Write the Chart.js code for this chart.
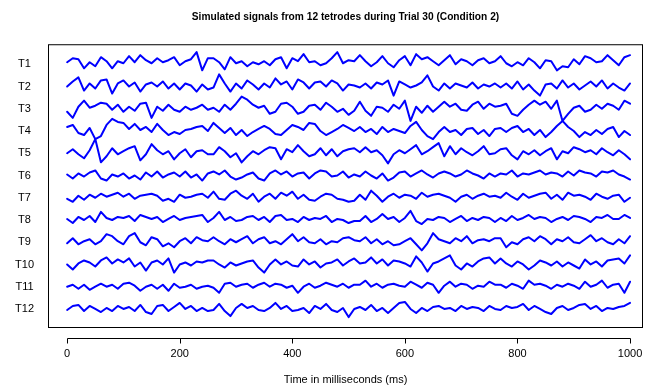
<!DOCTYPE html>
<html>
<head>
<meta charset="utf-8">
<script src="https://cdn.jsdelivr.net/npm/chart.js@4.4.0/dist/chart.umd.min.js"></script>
<style>
  html, body { margin: 0; padding: 0; background: #fff; }
</style>
</head>
<body>
<canvas id="myChart" width="645" height="387"></canvas>
<script>
// traces are stacked, one baseline per tetrode, SEP units apart
const SEP = 22;
const tetrodes = ['T1', 'T2', 'T3', 'T4', 'T5', 'T6', 'T7', 'T8', 'T9', 'T10', 'T11', 'T12'];
const xTicks = [0, 200, 400, 600, 800, 1000];

// sample times (ms)
const timeMs = [
  0, 10, 20, 30, 40, 50, 60, 70, 80, 90, 100, 110, 120, 130, 140, 150, 160, 170, 180, 190,
  200, 210, 220, 230, 240, 250, 260, 270, 280, 290, 300, 310, 320, 330, 340, 350, 360, 370, 380, 390,
  400, 410, 420, 430, 440, 450, 460, 470, 480, 490, 500, 510, 520, 530, 540, 550, 560, 570, 580, 590,
  600, 610, 620, 630, 640, 650, 660, 670, 680, 690, 700, 710, 720, 730, 740, 750, 760, 770, 780, 790,
  800, 810, 820, 830, 840, 850, 860, 870, 880, 890, 900, 910, 920, 930, 940, 950, 960, 970, 980, 990,
  1000
];

// signal of each tetrode (arbitrary units)
const t1 = [2,6,5,-4,2,-2,7,3,-4,3,1,8,2,9,4,1,6,2,4,7,-1,3,5,12,-6,6,
  6,2,-5,7,1,3,-2,2,0,3,-1,5,7,-4,6,3,10,2,3,-1,1,6,12,1,4,3,
  9,3,-2,2,8,1,-3,4,8,-1,10,5,7,3,-1,4,9,0,5,3,-1,4,6,1,3,
  8,1,-2,2,-1,6,2,-4,4,3,-6,-2,-3,5,0,8,6,2,3,9,4,-1,7,9];
const t2 = [0,5,9,-4,3,-2,6,7,-7,3,6,0,4,-5,2,4,0,5,-2,3,-3,3,1,-5,2,-3,
  -1,12,3,-5,3,-2,6,2,-3,3,-1,8,2,5,-3,7,4,-2,4,5,0,6,3,-4,2,1,
  -1,3,-2,4,2,6,-9,5,2,-1,1,4,11,0,-4,3,-2,3,1,-1,4,-2,2,0,3,
  -1,3,-2,5,-3,2,-4,-9,2,3,-2,6,-1,3,-3,1,5,0,6,-2,3,-1,-4,3];
const t3 = [-3,-9,2,8,1,3,6,5,-1,4,-3,2,-2,5,6,-9,2,-2,4,-1,-3,2,-1,1,4,-1,
  1,-3,4,-1,5,12,9,4,1,3,-5,-3,5,6,2,-5,-3,3,4,-1,6,2,-3,0,-6,-2,
  7,-2,-7,2,1,-3,4,0,8,-12,2,-4,3,-3,2,7,2,5,-1,-2,4,7,0,5,2,
  3,5,-5,-7,-1,4,8,4,7,0,8,-12,-5,1,3,-3,-1,4,0,5,3,-1,8,5];
const t4 = [4,6,-2,-4,3,-8,-5,6,12,9,8,2,7,1,4,-1,7,1,-4,-1,-3,1,2,4,5,0,
  8,3,-2,3,-4,1,-5,-1,2,5,2,-3,-4,1,6,4,1,8,7,0,-4,-1,2,6,3,0,
  4,-1,2,-3,4,-1,2,0,-2,5,9,1,-5,-8,-1,4,-1,1,-4,2,3,-3,1,-5,2,
  3,-1,3,5,-1,2,-4,1,-6,-1,5,10,4,0,-6,-1,-4,1,-3,2,4,-6,0,-4];
const t5 = [0,4,-1,-5,3,14,-9,-3,5,-1,2,5,7,-7,-1,9,3,-1,2,-6,0,4,-4,2,3,-1,
  -1,6,2,-4,0,-9,-3,2,-1,3,6,5,-6,4,1,8,2,-3,-1,5,-2,4,-3,2,4,5,
  1,6,1,3,-2,-10,-1,3,0,4,8,-1,2,6,10,-3,7,-1,5,1,-2,2,7,-1,0,
  4,5,-2,-6,2,-1,3,-2,2,5,-6,2,0,6,4,1,3,-1,5,1,-2,3,-1,-6];
const t6 = [1,-3,2,-1,3,5,-3,-5,1,-1,2,-3,0,-4,3,-1,4,-2,1,3,-1,4,-2,1,-5,2,
  4,1,5,-1,-4,-2,1,3,-3,-5,2,5,1,4,-1,2,3,-3,2,5,4,-1,0,4,-2,1,
  -1,4,0,-3,2,-5,-2,3,4,-1,2,5,1,-2,2,4,2,-1,1,5,2,0,-3,2,-1,
  2,1,5,-1,2,1,3,5,1,3,2,-1,4,0,5,3,2,-1,4,3,5,1,-1,-4];
const t7 = [-1,-4,2,-2,3,0,4,1,3,5,1,4,-1,2,3,4,2,-3,-1,-4,3,0,1,3,4,0,
  6,-1,-2,4,7,2,-1,4,-4,1,4,-1,5,2,6,-1,3,-2,-3,1,4,3,-1,-2,-4,-3,
  3,-2,7,2,-4,1,4,0,3,2,-1,5,1,3,4,2,0,-4,1,3,-1,2,4,1,2,
  0,5,1,-2,4,0,2,4,5,-1,3,-2,5,2,3,1,-2,4,1,-1,2,3,-4,0];
const t8 = [1,-3,3,0,4,-2,8,2,0,3,2,4,-1,5,3,1,3,-2,1,4,0,2,3,4,5,-2,
  2,8,0,3,-1,0,3,4,0,3,-2,4,5,0,1,-2,3,0,2,1,4,-2,1,0,-3,-1,
  -1,4,-2,1,6,1,3,-2,2,9,-1,-4,1,0,3,2,-2,1,4,-1,2,0,3,2,-2,
  2,-1,4,0,2,5,1,3,2,-2,1,3,0,4,3,1,-2,3,2,5,1,1,5,2];
const t9 = [-1,4,-2,1,3,-2,1,8,6,1,-2,6,9,0,-3,5,3,-4,-1,-5,1,4,-1,5,2,1,
  5,1,-2,3,0,3,6,-1,3,5,-1,1,-2,3,8,1,5,0,-1,3,-2,1,0,4,5,2,
  1,5,-1,3,-2,1,-3,-2,1,4,-2,-8,-1,9,3,1,-1,4,1,6,-1,2,3,1,4,
  4,-5,0,-2,3,5,1,6,3,-2,3,1,5,0,-1,3,7,1,4,0,-2,3,-1,6];
const t10 = [0,-5,1,4,2,-2,4,7,1,5,2,6,-2,2,-6,2,4,0,6,-8,0,2,-1,3,2,4,
  4,0,-3,2,-1,1,3,4,-3,-8,0,5,0,3,-1,-2,5,0,3,-3,1,2,5,-1,3,6,
  1,2,7,1,5,-1,4,3,1,-2,8,2,-7,1,3,6,9,-1,-5,1,-2,3,6,7,1,
  6,1,-2,3,0,-5,-1,4,2,-1,3,-2,2,-1,-4,5,0,3,-2,4,5,6,1,9];
const t11 = [0,2,-2,2,-3,0,3,0,2,-2,3,4,1,-4,0,2,-2,2,-4,3,-1,0,2,-2,0,1,
  -1,-6,3,4,0,2,3,-1,2,4,0,3,2,-1,1,-6,0,3,-1,1,4,2,0,3,-1,2,
  2,6,0,3,-1,2,3,1,0,5,2,-1,4,2,-6,1,5,0,3,2,-2,1,0,5,2,
  2,-1,3,1,-2,6,2,3,1,-2,2,0,3,1,-2,5,0,2,6,-1,2,3,-6,5];
const t12 = [-1,3,4,-2,3,0,-3,1,-2,3,0,2,-2,4,-3,-5,3,4,-2,2,6,0,3,-2,1,-2,
  -1,5,-2,-7,1,5,1,3,-1,-2,1,6,0,3,-2,-1,1,-4,3,0,5,-1,-3,1,-8,0,
  2,-1,4,-2,1,-4,1,6,7,0,-4,1,-2,2,3,0,1,-2,3,0,2,1,-2,3,0,
  -1,3,1,2,5,-1,3,0,-3,-5,1,3,-1,1,4,5,0,3,-2,1,0,2,3,6];

const signals = [t1, t2, t3, t4, t5, t6, t7, t8, t9, t10, t11, t12];

const FONT = "'Liberation Sans', Arial, Helvetica, sans-serif";
Chart.defaults.font.family = FONT;
Chart.defaults.color = '#000';

// box round the plot region and an R-style x axis below it
const rFrame = {
  id: 'rFrame',
  afterDraw(chart) {
    const {ctx, chartArea: a, scales: {x}} = chart;
    ctx.save();
    ctx.strokeStyle = '#000';
    ctx.lineWidth = 1;
    ctx.strokeRect(a.left + 0.5, a.top + 0.5, a.right - a.left - 1, a.bottom - a.top - 1);
    const y0 = a.bottom + 10.5;
    ctx.beginPath();
    ctx.moveTo(Math.round(x.getPixelForValue(xTicks[0])) + 0.5, y0);
    ctx.lineTo(Math.round(x.getPixelForValue(xTicks[xTicks.length - 1])) + 0.5, y0);
    xTicks.forEach(v => {
      const px = Math.round(x.getPixelForValue(v)) + 0.5;
      ctx.moveTo(px, y0);
      ctx.lineTo(px, y0 + 5);
    });
    ctx.stroke();
    ctx.restore();
  }
};

const datasets = signals.map((sig, i) => ({
  label: tetrodes[i],
  data: timeMs.map((t, k) => ({x: t, y: (11 - i) * SEP + sig[k]})),
  borderColor: '#0000ff',
  borderWidth: 2,
  pointRadius: 0,
  tension: 0,
  borderJoinStyle: 'round',
  borderCapStyle: 'round',
  fill: false
}));

const ctx = document.getElementById('myChart').getContext('2d');
const myChart = new Chart(ctx, {
  type: 'line',
  data: { datasets: datasets },
  options: {
    responsive: false,
    devicePixelRatio: 1,
    animation: false,
    layout: { padding: { left: 15, right: 2, top: 0, bottom: 0 } },
    plugins: {
      legend: { display: false },
      tooltip: { enabled: false },
      title: {
        display: true,
        fullSize: false,
        text: 'Simulated signals from 12 tetrodes during Trial 30 (Condition 2)',
        font: { size: 10.2, weight: 'bold', family: FONT },
        color: '#000',
        padding: { top: 11, bottom: 21 }
      }
    },
    scales: {
      x: {
        type: 'linear',
        min: -34,
        max: 1023,
        afterBuildTicks: s => { s.ticks = xTicks.map(v => ({value: v})); },
        afterFit: s => { s.height = 59; },
        grid: { display: false, drawTicks: true, tickLength: 19 },
        border: { display: false },
        ticks: { padding: 0, font: { size: 11 }, maxRotation: 0, callback: v => String(v) },
        title: {
          display: true,
          text: 'Time in milliseconds (ms)',
          font: { size: 11 },
          padding: { top: 13, bottom: 0 }
        }
      },
      y: {
        type: 'linear',
        min: -18.8,
        max: 261.8,
        afterBuildTicks: s => { s.ticks = tetrodes.map((n, i) => ({value: (11 - i) * SEP})); },
        afterFit: s => { s.width = 33; },
        grid: { display: false, drawTicks: true, tickLength: 14 },
        border: { display: false },
        ticks: {
          padding: 0,
          crossAlign: 'center',
          font: { size: 11 },
          callback: v => tetrodes[11 - Math.round(v / SEP)]
        }
      }
    }
  },
  plugins: [rFrame]
});
</script>
</body>
</html>
